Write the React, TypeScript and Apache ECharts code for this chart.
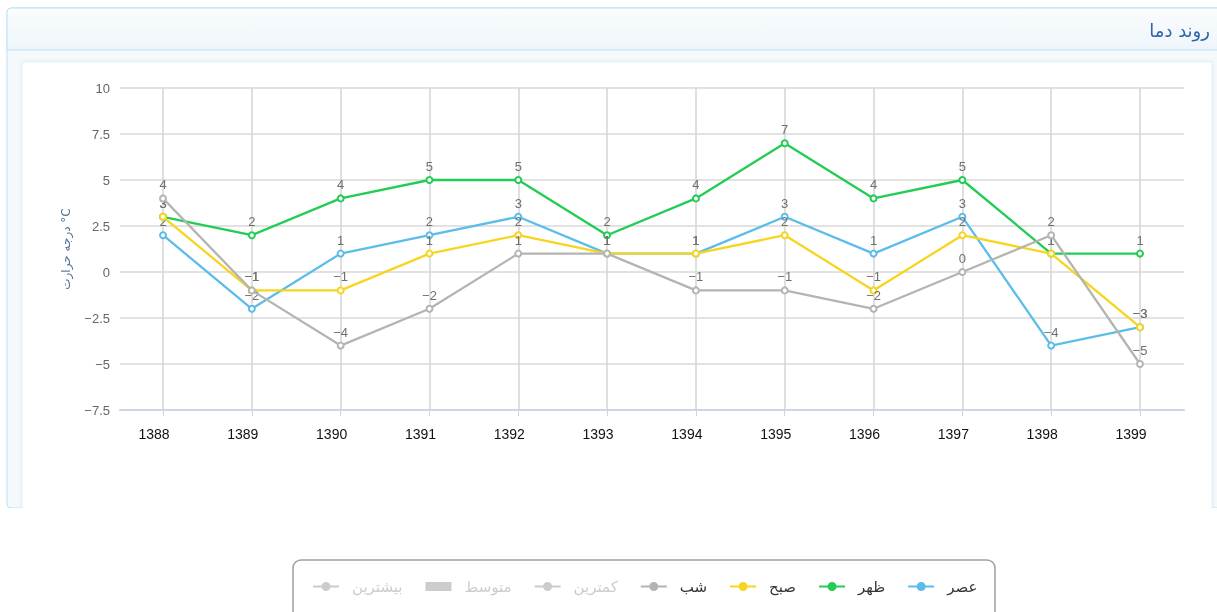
import React, { useEffect, useRef } from "react";
import * as echarts from "echarts";

const categories = ["1388", "1389", "1390", "1391", "1392", "1393", "1394", "1395", "1396", "1397", "1398", "1399"];
const asrValues = [2, -2, 1, 2, 3, 1, 1, 3, 1, 3, -4, -3];
const zohrValues = [3, 2, 4, 5, 5, 2, 4, 7, 4, 5, 1, 1];
const sobhValues = [3, -1, -1, 1, 2, 1, 1, 2, -1, 2, 1, -3];
const shabValues = [4, -1, -4, -2, 1, 1, -1, -1, -2, 0, 2, -5];
const minValues: number[] = [];
const avgValues: number[] = [];
const maxValues: number[] = [];

const seriesNames = ["عصر", "ظهر", "صبح", "شب", "کمترین", "متوسط", "بیشترین"];
const seriesColors = ["#5cbcea", "#22cc55", "#f7d51e", "#b4b4b0", "#c0c0c0", "#c0c0c0", "#c0c0c0"];
const legendOrder = ["بیشترین", "متوسط", "کمترین", "شب", "صبح", "ظهر", "عصر"];
const yTicks = { min: -7.5, max: 10, interval: 2.5 };
const title = "روند دما";
const yName = "درجه حرارت °C";

const lineMarkerIcon =
  "path://M0,3.5 L8.8,3.5 L8.8,5.5 L0,5.5 Z M17.2,3.5 L26,3.5 L26,5.5 L17.2,5.5 Z M8.5,4.5 A4.5,4.5 0 1 1 17.5,4.5 A4.5,4.5 0 1 1 8.5,4.5 Z";

export default function App() {
  const ref = useRef<HTMLDivElement>(null);
  useEffect(() => {
    if (!ref.current) return;
    const chart = echarts.init(ref.current, undefined, { renderer: "svg" });
    const dataSets = [asrValues, zohrValues, sobhValues, shabValues, minValues, avgValues, maxValues];
    const series: any[] = dataSets.map((d, i) => ({
      name: seriesNames[i],
      type: i === 5 ? "bar" : "line",
      xAxisIndex: 1,
      yAxisIndex: 1,
      data: d,
      color: seriesColors[i],
      symbol: "emptyCircle",
      symbolSize: 6,
      z: 2 + i,
      lineStyle: { width: 2.3, color: seriesColors[i] },
      itemStyle: { color: seriesColors[i], borderWidth: 1.5 },
      label: {
        show: true,
        position: "top",
        distance: 3,
        color: "#707070",
        fontSize: 13,
        fontFamily: "Liberation Sans",
        formatter: (p: any) => String(p.value).replace("-", "−"),
      },
    }));
    const selected: Record<string, boolean> = { "کمترین": false, "متوسط": false, "بیشترین": false };
    const legendData = legendOrder.map((name) => ({
      name,
      icon: name === "متوسط" ? "rect" : lineMarkerIcon,
    }));
    chart.setOption({
      animation: false,
      graphic: [
        {
          type: "rect",
          shape: { x: 7, y: 8, width: 1220, height: 500, r: 4 },
          style: { fill: "#f5f9fc", stroke: "#b9e3f4", lineWidth: 1 },
          z: -10,
        },
        {
          type: "rect",
          shape: { x: 7, y: 8, width: 1220, height: 42, r: [4, 0, 0, 0] },
          style: {
            fill: new echarts.graphic.LinearGradient(0, 0, 0, 1, [
              { offset: 0, color: "#fbfdfe" },
              { offset: 1, color: "#eef5fa" },
            ]),
            stroke: "#b9e3f4",
            lineWidth: 1,
          },
          z: -9,
        },
        {
          type: "rect",
          shape: { x: 22, y: 62, width: 1190, height: 460 },
          style: { fill: "#ffffff", stroke: "#e4eef4", lineWidth: 1, shadowColor: "rgba(0,0,0,0.06)", shadowBlur: 4 },
          z: -8,
        },
        {
          type: "rect",
          shape: { x: 0, y: 508, width: 1217, height: 104 },
          style: { fill: "#ffffff" },
          z: -7,
        },
        {
          type: "text",
          x: 1210,
          y: 30,
          style: {
            text: title,
            fill: "#2f64ad",
            fontSize: 18,
            fontFamily: "DejaVu Sans",
            align: "right",
            verticalAlign: "middle",
          },
          z: -6,
        },
        {
          type: "rect",
          shape: { x: 293, y: 560, width: 702, height: 60, r: 8 },
          style: { fill: "#ffffff", stroke: "#a0a0a0", lineWidth: 1.5 },
          z: -5,
        },
      ],
      legend: {
        data: legendData,
        selected,
        left: 308,
        top: 574,
        itemWidth: 26,
        itemHeight: 9,
        itemGap: 23,
        inactiveColor: "#cccccc",
        itemStyle: { borderWidth: 0 },
        textStyle: { fontSize: 15, color: "#333333", fontFamily: "DejaVu Sans", padding: [0, 0, 0, 8] },
      },
      grid: [
        { left: 120, right: 33, top: 88, bottom: 202 },
        { left: 163, right: 77, top: 88, bottom: 202 },
      ],
      xAxis: [
        {
          type: "category",
          gridIndex: 0,
          data: categories,
          boundaryGap: true,
          axisLine: { show: true, onZero: false, lineStyle: { color: "#ccd6eb", width: 2 } },
          axisTick: { show: false },
          axisLabel: { show: false },
          splitLine: { show: false },
        },
        {
          type: "category",
          gridIndex: 1,
          data: categories,
          boundaryGap: false,
          axisLine: { show: false, onZero: false },
          axisTick: { show: true, length: 6, alignWithLabel: true, lineStyle: { color: "#d4d4d4" } },
          axisLabel: {
            show: true,
            color: "#111111",
            fontSize: 14,
            fontFamily: "Liberation Sans",
            margin: 17,
            padding: [0, 18, 0, 0],
          },
          splitLine: { show: true, lineStyle: { color: "#d4d4d4", width: 1.5 } },
        },
      ],
      yAxis: [
        {
          type: "value",
          gridIndex: 0,
          min: yTicks.min,
          max: yTicks.max,
          interval: yTicks.interval,
          name: yName,
          nameLocation: "middle",
          nameGap: 48,
          nameRotate: 90,
          nameTextStyle: { color: "#4f6f96", fontSize: 12, fontFamily: "DejaVu Sans" },
          axisLine: { show: false },
          axisTick: { show: false },
          axisLabel: {
            color: "#666666",
            fontSize: 13,
            fontFamily: "Liberation Sans",
            margin: 10,
            formatter: (v: number) => String(v).replace("-", "−"),
          },
          splitLine: { show: true, lineStyle: { color: "#d8d8d8", width: 1.5 } },
        },
        {
          type: "value",
          gridIndex: 1,
          min: yTicks.min,
          max: yTicks.max,
          interval: yTicks.interval,
          show: false,
          splitLine: { show: false },
        },
      ],
      series,
    });
    return () => chart.dispose();
  }, []);
  return <div ref={ref} style={{ position: "fixed", left: 0, top: 0, width: 1217, height: 612 }} />;
}
